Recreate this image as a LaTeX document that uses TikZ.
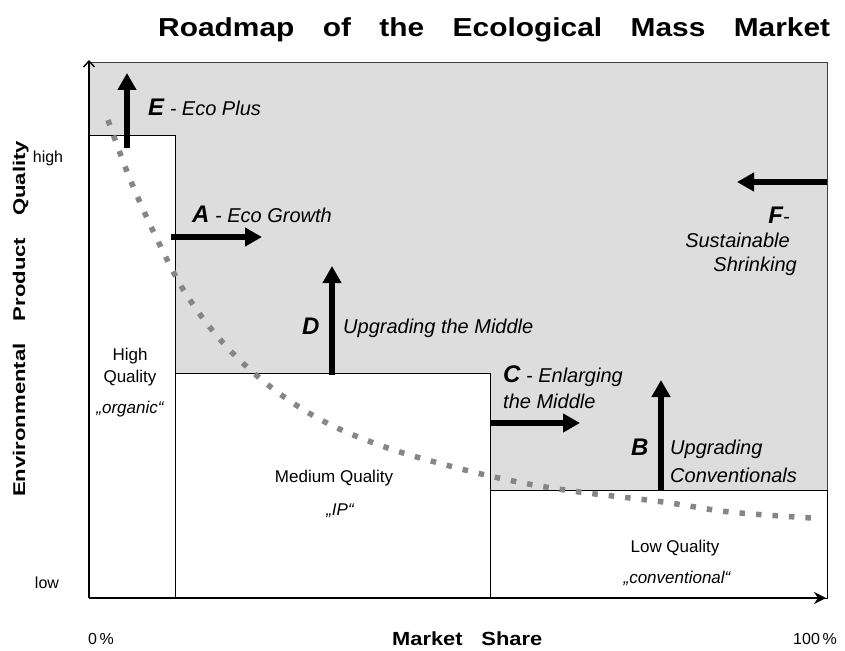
\documentclass[tikz,border=0pt]{standalone}
\usepackage{fontspec}
\setmainfont{Liberation Sans}
\newfontfamily\widefont[FakeStretch=1.15]{Liberation Sans}
\newfontfamily\tallfont[FakeStretch=1.3]{Liberation Sans}
\usetikzlibrary{arrows.meta}
\definecolor{areagray}{HTML}{DDDDDD}
\definecolor{dotgray}{HTML}{868686}
\newcommand{\mkey}[1]{{\fontsize{24}{26}\selectfont\bfseries #1}}

\tikzset{
  move/.style={line width=6pt, -{Triangle[length=17pt,width=18pt]}},
  keyl/.style={inner sep=0pt, anchor=base west, font=\fontsize{24}{26}\selectfont\bfseries\itshape},
  txt/.style={inner sep=0pt, anchor=base west, font=\fontsize{20}{24}\selectfont\itshape},
  seg/.style={inner sep=0pt, anchor=base, font=\fontsize{17}{20}\selectfont},
  tick/.style={inner sep=0pt, anchor=base, font=\fontsize{16}{20}\selectfont},
  dotline/.style={dotgray, line width=5.5pt, dash pattern=on 5.5pt off 11pt},
}

\begin{document}
\begin{tikzpicture}[x=1pt, y=-1pt]
  \useasboundingbox (0,0) rectangle (845,650);

  % market areas
  \draw[black!75, fill=areagray] (89,62) rectangle (827,598);
  \draw[fill=white] (89,135) rectangle (175,598);
  \draw[fill=white] (175,373) rectangle (490,598);
  \draw[fill=white] (490,490) rectangle (827,598);

  % demand curve
  \draw[dotline] plot[smooth, tension=0.6] coordinates {(108,120) (130,179) (156,237)
    (186,294) (225,345) (272,388) (325,422) (385,447) (446,465) (508,480)
    (572,491) (663,502) (730,512) (812,518)};

  % axes
  \coordinate (o) at (89,598);
  \coordinate (ytop) at (89,60);
  \coordinate (xend) at (826,598);
  \draw[line width=1.4pt, -{Straight Barb[length=6pt,width=11pt]}] (o) -- (ytop);
  \draw[line width=1.8pt, -{Stealth[length=12pt,width=12pt]}] (o) -- (xend);

  % strategy arrows
  \coordinate (e0) at (127,148);  \coordinate (e1) at (127,73);
  \coordinate (a0) at (171,237);  \coordinate (a1) at (262,237);
  \coordinate (d0) at (332,375);  \coordinate (d1) at (332,266);
  \coordinate (c0) at (491,423);  \coordinate (c1) at (580,423);
  \coordinate (b0) at (661,490);  \coordinate (b1) at (661,380);
  \coordinate (f0) at (827,182);  \coordinate (f1) at (737,182);
  \path[move]
    (e0) edge (e1)
    (a0) edge (a1)
    (d0) edge (d1)
    (c0) edge (c1)
    (b0) edge (b1)
    (f0) edge (f1);

  % strategy labels
  \node (le) [txt] at (148,115) {\mkey{E} - Eco Plus};
  \node (la) [txt] at (192,222) {\mkey{A} - Eco Growth};
  \node (ld) [keyl] at (302,334) {D};
  \node (ld2) [txt] at (343,333) {Upgrading the Middle};
  \node (lc) [txt] at (503,382) {\mkey{C} - Enlarging};
  \node (lc2) [txt] at (503,408) {the Middle};
  \node (lb) [keyl] at (631,455) {B};
  \node (lb2) [txt] at (670,454) {Upgrading};
  \node (lb3) [txt] at (670,482) {Conventionals};
  \node (lf) [txt, anchor=base east] at (790,223) {\mkey{F}-};
  \node (lf2) [txt, anchor=base east] at (790,247) {Sustainable};
  \node (lf3) [txt, anchor=base east] at (797,271) {Shrinking};

  % segment labels
  \node (hq1) [seg] at (130,360) {High};
  \node (hq2) [seg] at (130,382) {Quality};
  \node (hq3) [seg, font=\fontsize{17}{20}\selectfont\itshape] at (130,413) {„organic“};
  \node (mq1) [seg] at (334,482) {Medium Quality};
  \node (mq2) [seg, font=\fontsize{17}{20}\selectfont\itshape] at (340,515) {„IP“};
  \node (lq1) [seg] at (675,552) {Low Quality};
  \node (lq2) [seg, font=\fontsize{17}{20}\selectfont\itshape] at (677,583) {„conventional“};

  % axis labels
  \node (high) [tick] at (48,162) {high};
  \node (low) [tick] at (47,588) {low};
  \node (zero) [tick] at (101,644) {0\,\%};
  \node (full) [tick] at (815,644) {100\,\%};
  \node (xlabel) [inner sep=0pt, anchor=base west, font=\widefont\fontsize{19}{22}\selectfont\bfseries]
    at (392,645) {\makebox[150pt][s]{Market Share}};
  \node (ylabel) [inner sep=0pt, anchor=base west, rotate=90, font=\tallfont\fontsize{17}{20}\selectfont\bfseries]
    at (25,497) {\makebox[356pt][s]{Environmental Product Quality}};
  \node (title) [inner sep=0pt, anchor=base west, font=\widefont\fontsize{26}{30}\selectfont\bfseries]
    at (158,37) {\makebox[672pt][s]{Roadmap of the Ecological Mass Market}};
\end{tikzpicture}
\end{document}
